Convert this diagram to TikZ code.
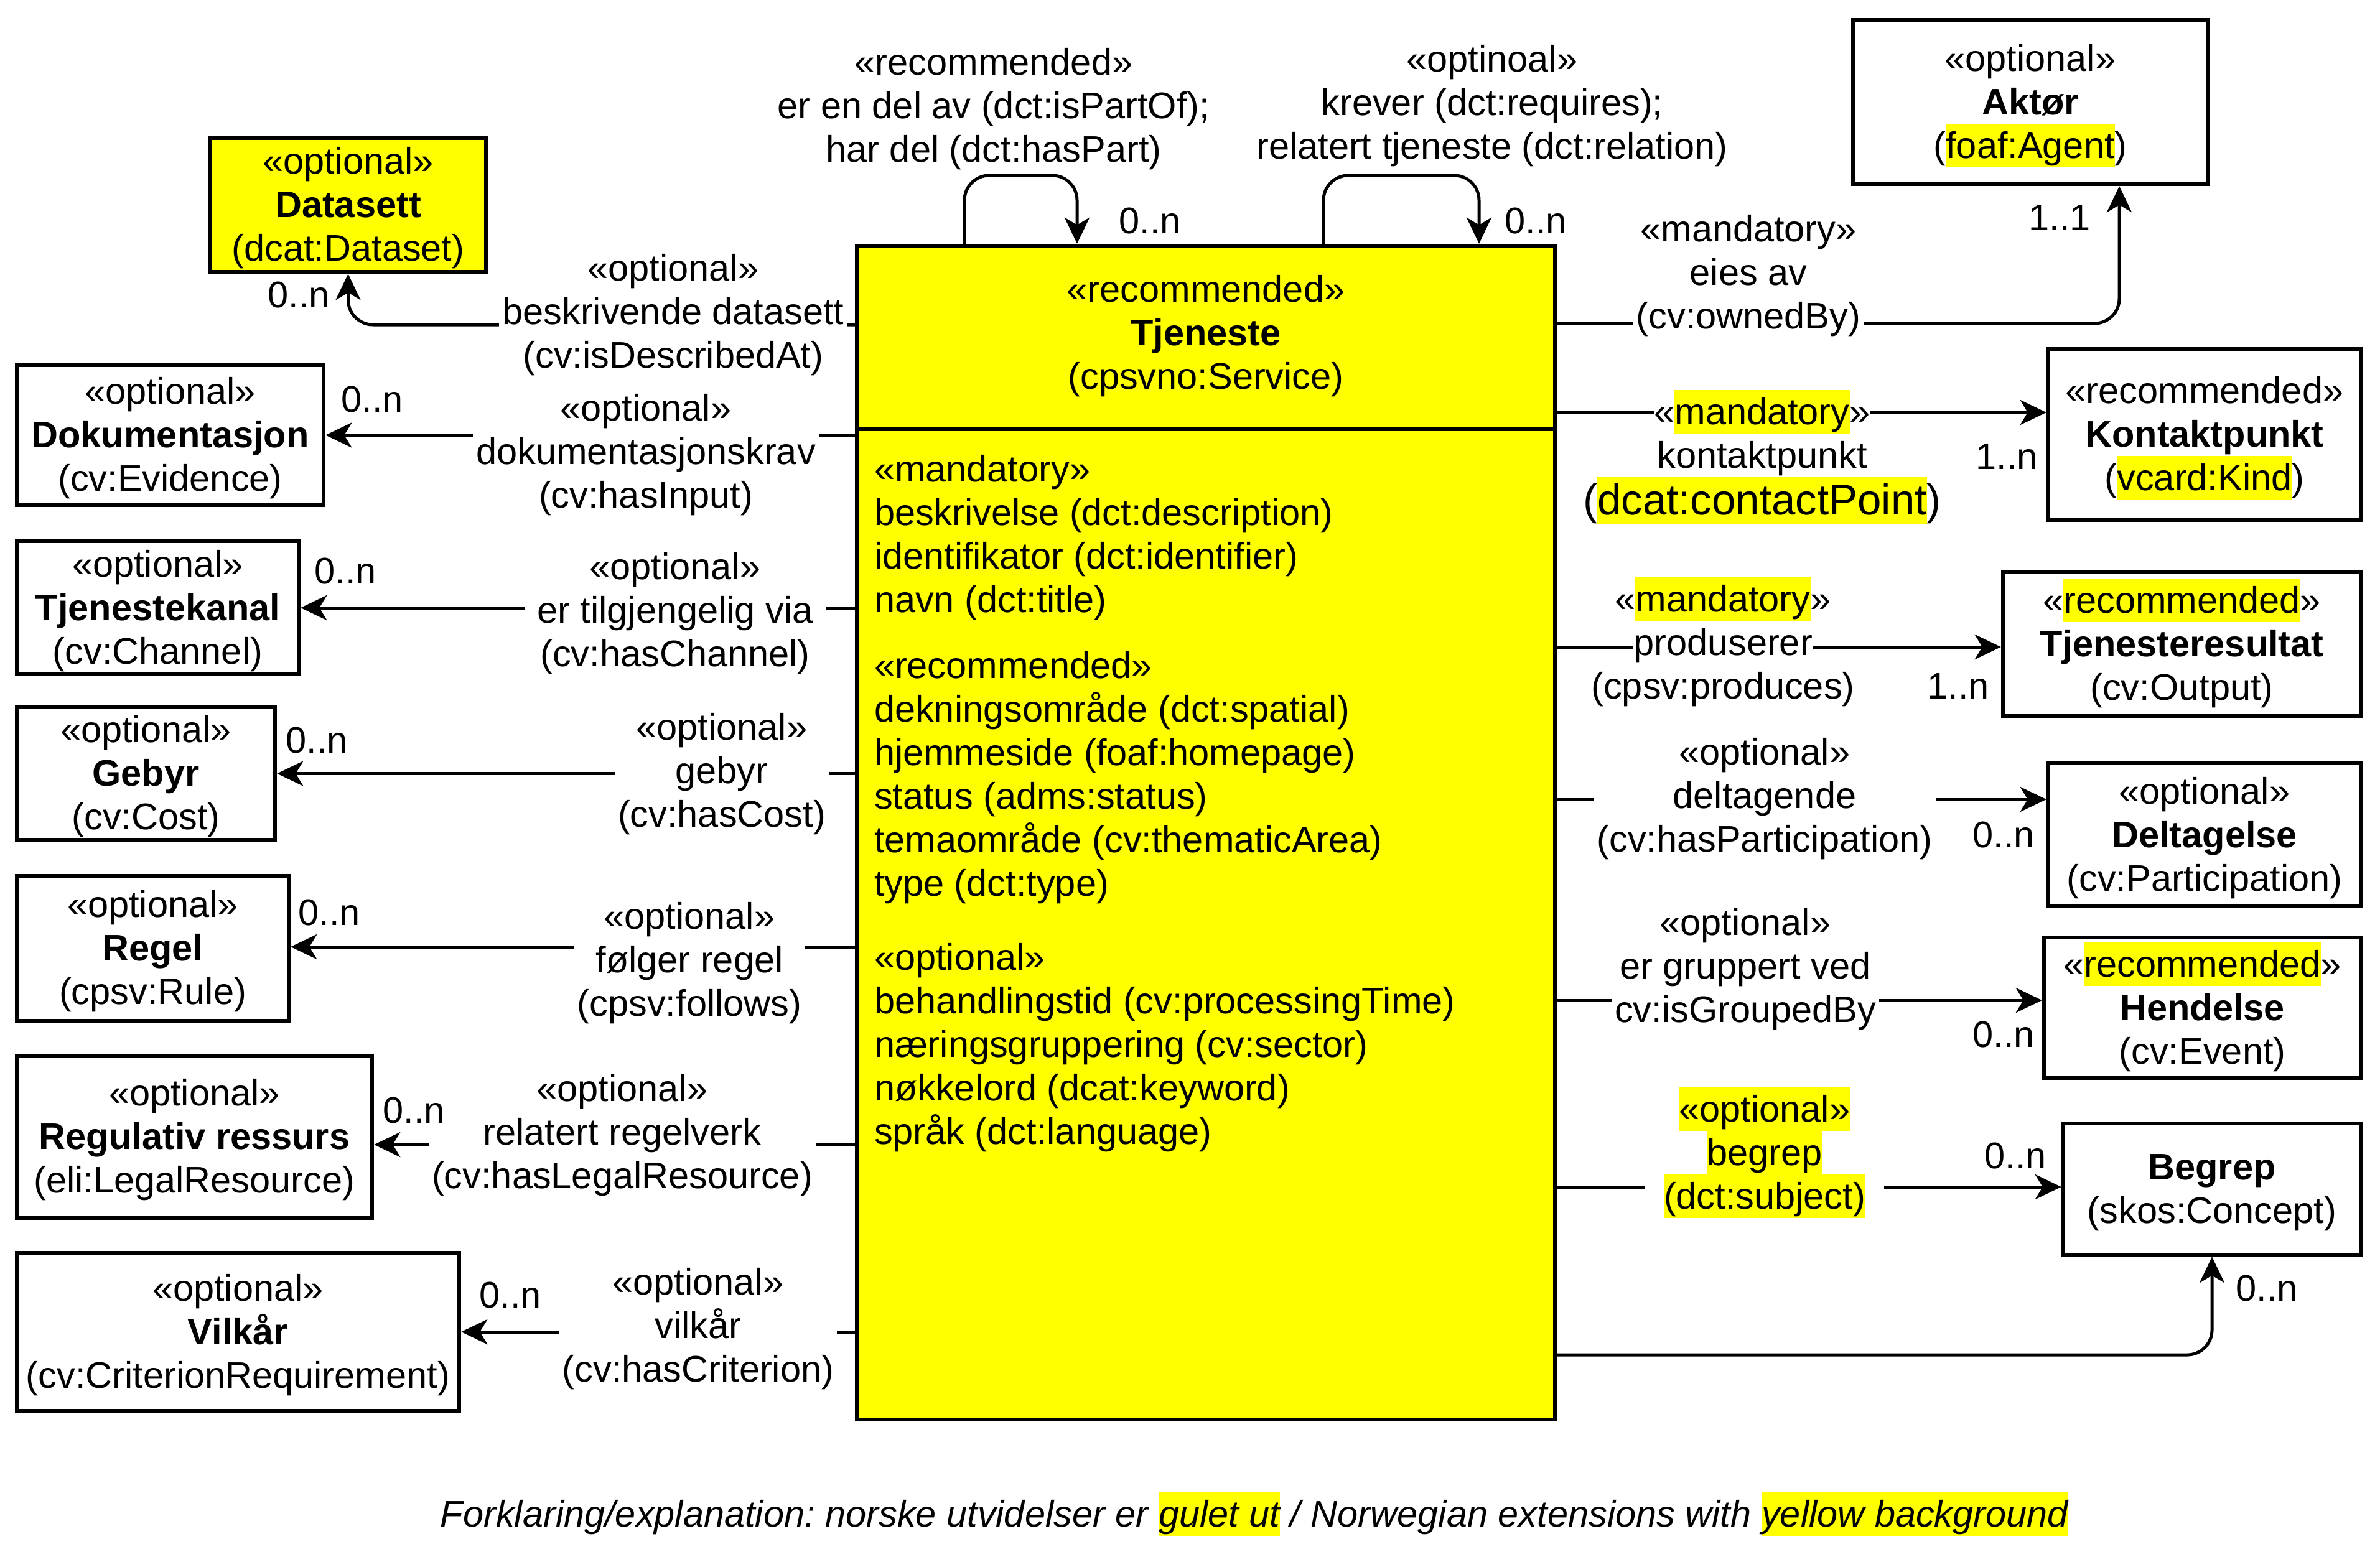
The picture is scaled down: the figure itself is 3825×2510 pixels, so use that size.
\documentclass[tikz,border=0pt]{standalone}
\usepackage{fontspec}
\setmainfont{Liberation Sans}
\usetikzlibrary{arrows.meta}
\lineskiplimit=-100pt
\frenchspacing
\definecolor{yel}{RGB}{255,255,0}
\newcommand\hl[1]{{\setlength\fboxsep{0pt}\colorbox{yel}{\rule[-0.25em]{0pt}{1.18em}#1}}}
\newcommand\hlb[1]{{\setlength\fboxsep{0pt}\colorbox{yel}{\rule[-0.22em]{0pt}{1.1em}#1}}}
\newcommand\wb[1]{{\setlength\fboxsep{0pt}\colorbox{white}{\rule[-0.25em]{0pt}{1.18em}#1}}}
\newcommand\fs{\fontsize{11.9}{14}\selectfont}
\newcommand\T{\rule{0pt}{0.93em}}
\newcommand\B{\rule[-0.25em]{0pt}{0.25em}}
\begin{document}
\begin{tikzpicture}[x=0.2pt,y=-0.2pt,
  cls/.style={draw, line width=1.3pt, align=center, inner sep=0pt, font=\fs},
  lbl/.style={align=center, inner sep=0pt, font=\fs},
  lblw/.style={lbl, fill=white, inner xsep=1pt},
  mult/.style={inner sep=0pt, font=\fs},
  conn/.style={line width=1pt, -{Stealth[length=8.4pt,width=8pt,inset=2.4pt]}, rounded corners=8pt}]
\fill[white] (0,0) rectangle (3825,2510);
\useasboundingbox (0,0) rectangle (3825,2510);

% main class
\node[draw, line width=1.3pt, fill=yel, minimum width=224.4pt, minimum height=377.4pt, inner sep=0pt] (svc) at (1938,1338.5) {};
\draw[line width=1.3pt] (svc.west |- 0,690) -- (svc.east |- 0,690);
\node[lbl] (svchead) at (1938,535) {\T«recommended»\\\textbf{Tjeneste}\\(cpsvno:Service)\B};
\node[lbl, align=left, anchor=west] (attm) at (1404,859) {\T«mandatory»\\beskrivelse (dct:description)\\identifikator (dct:identifier)\\navn (dct:title)\B};
\node[lbl, align=left, anchor=west] (attr) at (1404,1245.5) {\T«recommended»\\dekningsområde (dct:spatial)\\hjemmeside (foaf:homepage)\\status (adms:status)\\temaområde (cv:thematicArea)\\type (dct:type)\B};
\node[lbl, align=left, anchor=west] (atto) at (1404,1679) {\T«optional»\\behandlingstid (cv:processingTime)\\næringsgruppering (cv:sector)\\nøkkelord (dcat:keyword)\\språk (dct:language)\B};

% left classes
\node[cls, fill=yel, minimum width=88.6pt, minimum height=43pt] (ds) at (559.5,329.5) {\T«optional»\\\textbf{Datasett}\\(dcat:Dataset)\B};
\node[cls, minimum width=98.6pt, minimum height=45pt] (dok) at (273.5,699.5) {\T«optional»\\\textbf{Dokumentasjon}\\(cv:Evidence)\B};
\node[cls, minimum width=90.6pt, minimum height=42.8pt] (kan) at (253.5,977) {\T«optional»\\\textbf{Tjenestekanal}\\(cv:Channel)\B};
\node[cls, minimum width=83pt, minimum height=42.6pt] (geb) at (234.5,1243.5) {\T«optional»\\\textbf{Gebyr}\\(cv:Cost)\B};
\node[cls, minimum width=87.4pt, minimum height=46.6pt] (reg) at (245.5,1524.5) {\T«optional»\\\textbf{Regel}\\(cpsv:Rule)\B};
\node[cls, minimum width=114.2pt, minimum height=52.2pt] (lr) at (312.5,1827.5) {\T«optional»\\\textbf{Regulativ ressurs}\\(eli:LegalResource)\B};
\node[cls, minimum width=142.2pt, minimum height=50.8pt] (vil) at (382.5,2141) {\T«optional»\\\textbf{Vilkår}\\(cv:CriterionRequirement)\B};

% right classes
\node[cls, minimum width=114pt, minimum height=52.8pt] (akt) at (3263,164) {\T«optional»\\\textbf{Aktør}\\(\hl{foaf:Agent})\B};
\node[cls, minimum width=100.4pt, minimum height=55pt] (kp) at (3543,698.5) {\T«recommended»\\\textbf{Kontaktpunkt}\\(\hl{vcard:Kind})\B};
\node[cls, minimum width=115pt, minimum height=46.4pt] (res) at (3506.5,1035) {\T«\hl{recommended}»\\\textbf{Tjenesteresultat}\\(cv:Output)\B};
\node[cls, minimum width=100.4pt, minimum height=46pt] (del) at (3543,1342) {\T«optional»\\\textbf{Deltagelse}\\(cv:Participation)\B};
\node[cls, minimum width=101.8pt, minimum height=45.2pt] (hen) at (3539.5,1620) {\T«\hl{recommended}»\\\textbf{Hendelse}\\(cv:Event)\B};
\node[cls, minimum width=95.6pt, minimum height=42.2pt] (beg) at (3555,1911.5) {\T\textbf{Begrep}\\(skos:Concept)\B};

% self loops
\draw[conn] (svc.north -| 1550,0) |- (1640,282) -| (svc.north -| 1731,0);
\draw[conn] (svc.north -| 2127,0) |- (2250,282) -| (svc.north -| 2377,0);

% left connectors
\draw[conn] (svc.west |- 0,522) -| (ds.south);
\draw[conn] (svc.west |- dok.east) -- (dok.east);
\draw[conn] (svc.west |- kan.east) -- (kan.east);
\draw[conn] (svc.west |- geb.east) -- (geb.east);
\draw[conn] (svc.west |- 0,1522) -- (reg.east |- 0,1522);
\draw[conn] (svc.west |- 0,1840) -- (lr.east |- 0,1840);
\draw[conn] (svc.west |- vil.east) -- (vil.east);

% right connectors
\draw[conn] (svc.east |- 0,520) -| (akt.south -| 3406,0);
\draw[conn] (svc.east |- 0,663) -- (kp.west |- 0,663);
\draw[conn] (svc.east |- 0,1040) -- (res.west |- 0,1040);
\draw[conn] (svc.east |- 0,1285) -- (del.west |- 0,1285);
\draw[conn] (svc.east |- 0,1608) -- (hen.west |- 0,1608);
\draw[conn] (svc.east |- 0,1908) -- (beg.west |- 0,1908);
\draw[conn] (svc.east |- 0,2178) -| (beg.south);

% labels top
\node[lbl] (l1) at (1597,170) {\T«recommended»\\er en del av (dct:isPartOf);\\har del (dct:hasPart)\B};
\node[lbl] (l2) at (2398,165) {\T«optinoal»\\krever (dct:requires);\\relatert tjeneste (dct:relation)\B};

% labels left
\node[lblw] (dsl) at (1082,501) {\T«optional»\\beskrivende datasett\\(cv:isDescribedAt)\B};
\node[lblw] (dokl) at (1038,726) {\T«optional»\\dokumentasjonskrav\\(cv:hasInput)\B};
\node[lblw, inner xsep=4pt] (kanl) at (1085,981) {\T«optional»\\er tilgjengelig via\\(cv:hasChannel)\B};
\node[lblw] (gebl) at (1160,1239) {\T«optional»\\gebyr\\(cv:hasCost)\B};
\node[lblw] (regl) at (1108,1543) {\T«optional»\\følger regel\\(cpsv:follows)\B};
\node[lblw] (lrl) at (1000,1820) {\T«optional»\\relatert regelverk\\(cv:hasLegalResource)\B};
\node[lblw] (vill) at (1122,2131) {\T«optional»\\vilkår\\(cv:hasCriterion)\B};

% labels right
\node[lblw] (aktl) at (2810,438) {\T«mandatory»\\eies av\\(cv:ownedBy)\B};
\node[lbl] (kpl) at (2832,735) {\wb{«\hl{mandatory}»}\\kontaktpunkt\\[1pt]{\fontsize{13.8}{16}\selectfont(\hlb{dcat:contactPoint})}\B};
\node[lbl] (resl) at (2769,1033) {\T«\hl{mandatory}»\\\wb{produserer}\\(cpsv:produces)\B};
\node[lblw] (dell) at (2836,1279) {\T«optional»\\deltagende\\(cv:hasParticipation)\B};
\node[lblw] (henl) at (2805,1553) {\T«optional»\\er gruppert ved\\cv:isGroupedBy\B};
\node[lblw, inner xsep=6pt] (begl) at (2836,1853) {\hl{«optional»}\\\hl{begrep}\\\hl{(dct:subject)}};

% multiplicities
\node[mult] (m1) at (480,474) {0..n};
\node[mult] (m2) at (598,642) {0..n};
\node[mult] (m3) at (555,918) {0..n};
\node[mult] (m4) at (509,1190) {0..n};
\node[mult] (m5) at (529,1467) {0..n};
\node[mult] (m6) at (665,1785) {0..n};
\node[mult] (m7) at (820,2082) {0..n};
\node[mult] (m8) at (1848,355) {0..n};
\node[mult] (m9) at (2468,355) {0..n};
\node[mult] (m10) at (3310,350) {1..1};
\node[mult] (m11) at (3225,734) {1..n};
\node[mult] (m12) at (3147,1103) {1..n};
\node[mult] (m13) at (3220,1342) {0..n};
\node[mult] (m14) at (3220,1663) {0..n};
\node[mult] (m15) at (3239,1858) {0..n};
\node[mult] (m16) at (3643,2071) {0..n};

% caption
\node[mult, font=\fs\itshape] (cap) at (2016,2434) {Forklaring/explanation: norske utvidelser er \hl{gulet ut} / Norwegian extensions with \hl{yellow background}};
\end{tikzpicture}
\end{document}
